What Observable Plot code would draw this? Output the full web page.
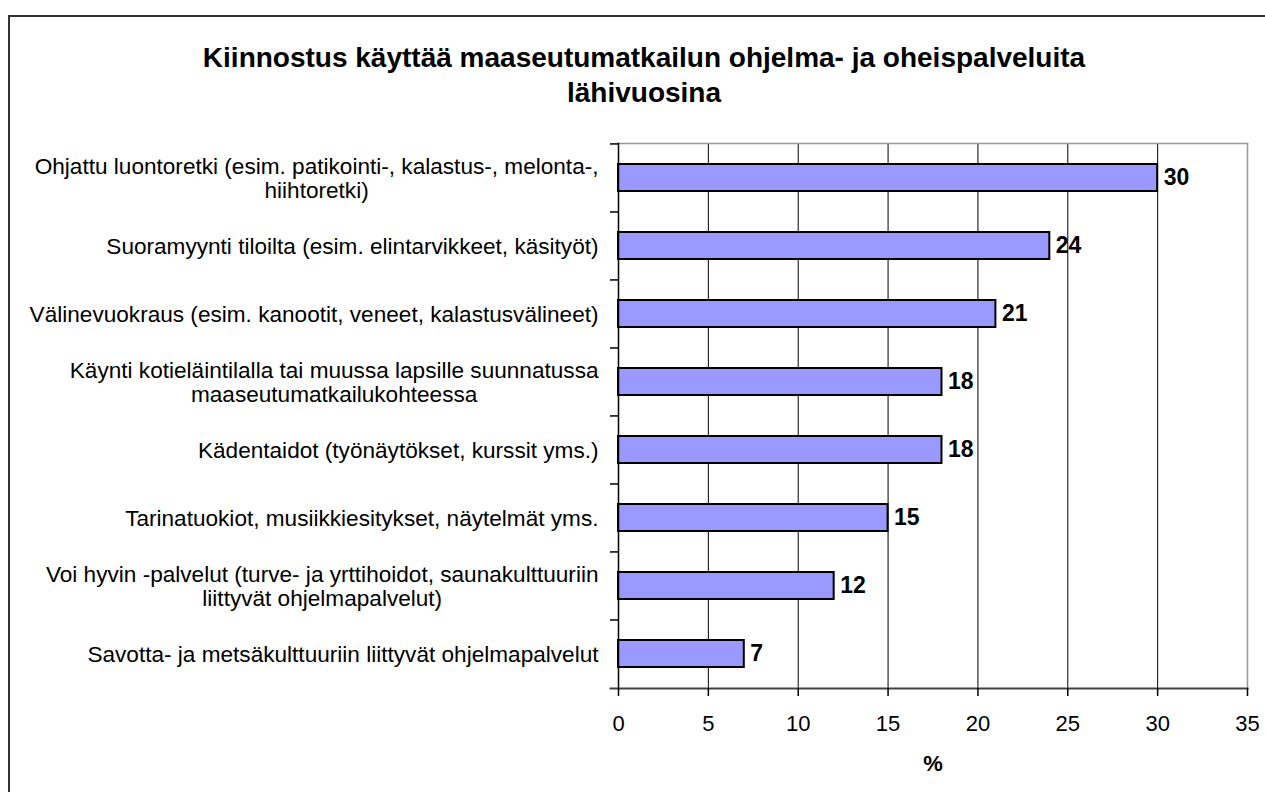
<!DOCTYPE html>
<html><head><meta charset="utf-8">
<script src="https://cdn.jsdelivr.net/npm/d3@7"></script>
<script src="https://cdn.jsdelivr.net/npm/@observablehq/plot@0.6"></script>
<style>
html,body{margin:0;padding:0;background:#fff;overflow:hidden;}
#wrap{position:relative;width:1265px;height:792px;overflow:hidden;font-family:"Liberation Sans",Arial,sans-serif;}
#border{position:absolute;left:8px;top:15px;width:1300px;height:900px;border:2px solid #333;box-sizing:border-box;}
#title{position:absolute;left:0;width:1288px;top:40px;text-align:center;font-weight:bold;font-size:28px;line-height:35px;color:#000;}
#chart{position:absolute;left:0;top:0;}
</style></head>
<body><div id="wrap"><div id="border"></div><div id="title"></div><div id="chart"></div></div>
<script>
const titleLines = ["Kiinnostus käyttää maaseutumatkailun ohjelma- ja oheispalveluita", "lähivuosina"];
const categories = [
  "Ohjattu luontoretki (esim. patikointi-, kalastus-, melonta-,\nhiihtoretki)",
  "Suoramyynti tiloilta (esim. elintarvikkeet, käsityöt)",
  "Välinevuokraus (esim. kanootit, veneet, kalastusvälineet)",
  "Käynti kotieläintilalla tai muussa lapsille suunnatussa\nmaaseutumatkailukohteessa",
  "Kädentaidot (työnäytökset, kurssit yms.)",
  "Tarinatuokiot, musiikkiesitykset, näytelmät yms.",
  "Voi hyvin -palvelut (turve- ja yrttihoidot, saunakulttuuriin\nliittyvät ohjelmapalvelut)",
  "Savotta- ja metsäkulttuuriin liittyvät ohjelmapalvelut"
];
const values = [30, 24, 21, 18, 18, 15, 12, 7];
const xTicks = [0, 5, 10, 15, 20, 25, 30, 35];
const xLabel = "%";

document.getElementById("title").innerHTML = titleLines.join("<br>");

const data = categories.map((c, i) => ({cat: c, value: values[i]}));

const W = 1265, H = 792, mL = 618, mR = 18, mT = 143, mB = 104;
const step = (H - mT - mB) / categories.length;
const font = '"Liberation Sans", Arial, sans-serif';
const labelSize = 22.6;
const ctx = document.createElement("canvas").getContext("2d");
ctx.font = `${labelSize}px ${font}`;
const maxW = s => Math.max(...s.split("\n").map(l => ctx.measureText(l).width));
const gap = 20;

const labelMarks = data.map(d => Plot.text([d], {
  y: "cat", frameAnchor: "left", text: "cat", textAnchor: "middle",
  dx: -(gap + maxW(d.cat) / 2), fontSize: labelSize, lineHeight: 1.1, fill: "#000"
}));

const chart = Plot.plot({
  width: W, height: H,
  marginLeft: mL, marginRight: mR, marginTop: mT, marginBottom: mB,
  style: {fontFamily: font, background: "transparent", color: "#000"},
  x: {domain: [0, 35], axis: null},
  y: {domain: categories, axis: null, paddingInner: 0.6, paddingOuter: 0.3},
  marks: [
    Plot.ruleX(xTicks.filter(t => t > 0 && t < 35), {stroke: "#000", strokeWidth: 1}),
    Plot.frame({anchor: "top", stroke: "#999", strokeWidth: 1.5}),
    Plot.frame({anchor: "right", stroke: "#999", strokeWidth: 1.5}),
    Plot.barX(data, {y: "cat", x: "value", fill: "#9999ff", stroke: "#000", strokeWidth: 2}),
    Plot.frame({anchor: "left", stroke: "#000", strokeWidth: 1.5}),
    Plot.ruleY(categories, {y: d => d, x1: 0, x2: 0, insetLeft: -8, dy: -step / 2, stroke: "#000", strokeWidth: 1.5}),
    Plot.frame({anchor: "bottom", stroke: "#404040", strokeWidth: 2, insetLeft: -8}),
    Plot.axisX(xTicks, {tickSize: 8, tickPadding: 19, fontSize: 22, stroke: "#000", fill: "#000", strokeWidth: 1.5, label: null}),
    Plot.text(data, {y: "cat", x: "value", text: d => String(d.value), textAnchor: "start", dx: 6, fontWeight: "bold", fontSize: 23, fill: "#000"}),
    ...labelMarks,
    Plot.text([xLabel], {frameAnchor: "bottom", text: d => d, dy: 82, fontWeight: "bold", fontSize: 22, fill: "#000"})
  ]
});
document.getElementById("chart").appendChild(chart);
</script>
</body></html>
